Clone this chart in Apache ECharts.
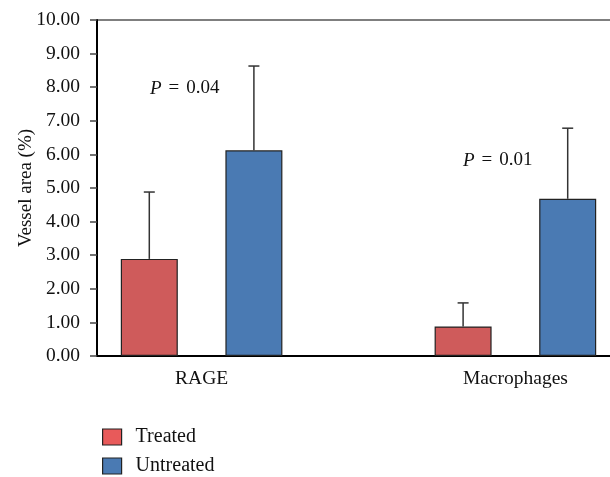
<!DOCTYPE html>
<html>
<head>
<meta charset="utf-8">
<script src="https://cdn.jsdelivr.net/npm/echarts@6/dist/echarts.min.js"></script>
<style>html,body{margin:0;padding:0;background:#fff;}#c{width:610px;height:477px;}</style>
</head>
<body>
<div id="c"></div>
<script>
// Bar slots along x: RAGE-treated, RAGE-untreated, gap, Macrophages-treated, Macrophages-untreated
var slots = ['RAGE-T', 'RAGE-U', 'gap', 'Mac-T', 'Mac-U'];
var groupLabels = ['', '', 'RAGE', '', '', '', '', '', 'Macrophages', '', ''];
var treatedValues = [2.89, '-', '-', 0.88, '-'];
var untreatedValues = ['-', 6.12, '-', '-', 4.68];
var treatedUpper = [4.88, '-', '-', 1.58, '-'];
var untreatedUpper = ['-', 8.63, '-', '-', 6.78];
var yTicks = [0, 1, 2, 3, 4, 5, 6, 7, 8, 9, 10];
var pLabels = ['0.04', '0.01'];

var FONT = '"Liberation Serif", "DejaVu Serif", serif';
var RED = '#CF5B5B', BLUE = '#4A7AB3';

function errData(vals, ups) {
  var out = [];
  for (var i = 0; i < vals.length; i++) {
    if (vals[i] !== '-') out.push([i, vals[i], ups[i]]);
  }
  return out;
}
var errorData = errData(treatedValues, treatedUpper).concat(errData(untreatedValues, untreatedUpper));

function pText(p) {
  return {text: '{i|P}{e|=}' + p,
    rich: {i: {fontStyle: 'italic', fontFamily: FONT, fontSize: 19, fill: '#111'},
           e: {fontFamily: FONT, fontSize: 19, fill: '#111', padding: [0, 7, 0, 7]}},
    fontFamily: FONT, fontSize: 19, fill: '#111'};
}

var chart = echarts.init(document.getElementById('c'), null, {renderer: 'canvas'});
chart.setOption({
  animation: false,
  backgroundColor: '#fff',
  grid: {left: 97, top: 20, width: 523, height: 336, outerBoundsMode: 'none', show: true, borderColor: '#555', borderWidth: 1.5, backgroundColor: 'transparent', containLabel: false},
  legend: {
    orient: 'vertical', left: 102, top: 427, height: 60, padding: 0, itemWidth: 19, itemHeight: 16, itemGap: 9,
    icon: 'rect',
    textStyle: {fontFamily: FONT, fontSize: 20, lineHeight: 16, color: '#111', padding: [0, 0, 0, 9]},
    data: [
      {name: 'Treated', itemStyle: {color: '#E85A5A', borderColor: '#222', borderWidth: 1.2}},
      {name: 'Untreated', itemStyle: {color: BLUE, borderColor: '#222', borderWidth: 1.2}}
    ]
  },
  xAxis: [
    {type: 'category', data: slots, position: 'bottom',
     axisLine: {show: true, lineStyle: {color: '#000', width: 2}},
     axisTick: {show: false}, axisLabel: {show: false}, splitLine: {show: false}},
    {type: 'category', data: groupLabels, position: 'bottom', boundaryGap: false,
     axisLine: {show: false}, axisTick: {show: false},
     axisLabel: {show: true, interval: 0, margin: 13, fontFamily: FONT, fontSize: 19.5, color: '#111'},
     splitLine: {show: false}}
  ],
  yAxis: {
    type: 'value', min: 0, max: 10, interval: 1,
    name: 'Vessel area (%)', nameLocation: 'middle', nameGap: 61, nameMoveOverlap: false,
    nameTextStyle: {fontFamily: FONT, fontSize: 19, color: '#111'},
    axisLine: {show: true, lineStyle: {color: '#000', width: 2}},
    axisTick: {show: true, length: 7, lineStyle: {color: '#444', width: 1.5}},
    axisLabel: {margin: 17, fontFamily: FONT, fontSize: 19.5, color: '#111', formatter: function (v) { return v.toFixed(2); }},
    splitLine: {show: false}
  },
  series: [
    {name: 'Treated', type: 'bar', stack: 'all', data: treatedValues, barWidth: 57,
     itemStyle: {color: RED, borderColor: '#222', borderWidth: 1.2}, z: 3},
    {name: 'Untreated', type: 'bar', stack: 'all', data: untreatedValues, barWidth: 57,
     itemStyle: {color: BLUE, borderColor: '#222', borderWidth: 1.2}, z: 3},
    {name: 'err', type: 'custom', data: errorData, z: 2,
     renderItem: function (params, api) {
       var x = api.value(0);
       var base = api.coord([x, api.value(1)]);
       var top = api.coord([x, api.value(2)]);
       var st = {stroke: '#333', lineWidth: 1.5};
       return {type: 'group', children: [
         {type: 'line', shape: {x1: base[0], y1: base[1], x2: top[0], y2: top[1]}, style: st},
         {type: 'line', shape: {x1: top[0] - 5.5, y1: top[1], x2: top[0] + 5.5, y2: top[1]}, style: st}
       ]};
     }}
  ],
  graphic: [
    {type: 'text', left: 150, top: 79, style: pText(pLabels[0])},
    {type: 'text', left: 463, top: 151, style: pText(pLabels[1])}
  ]
});
</script>
</body>
</html>
